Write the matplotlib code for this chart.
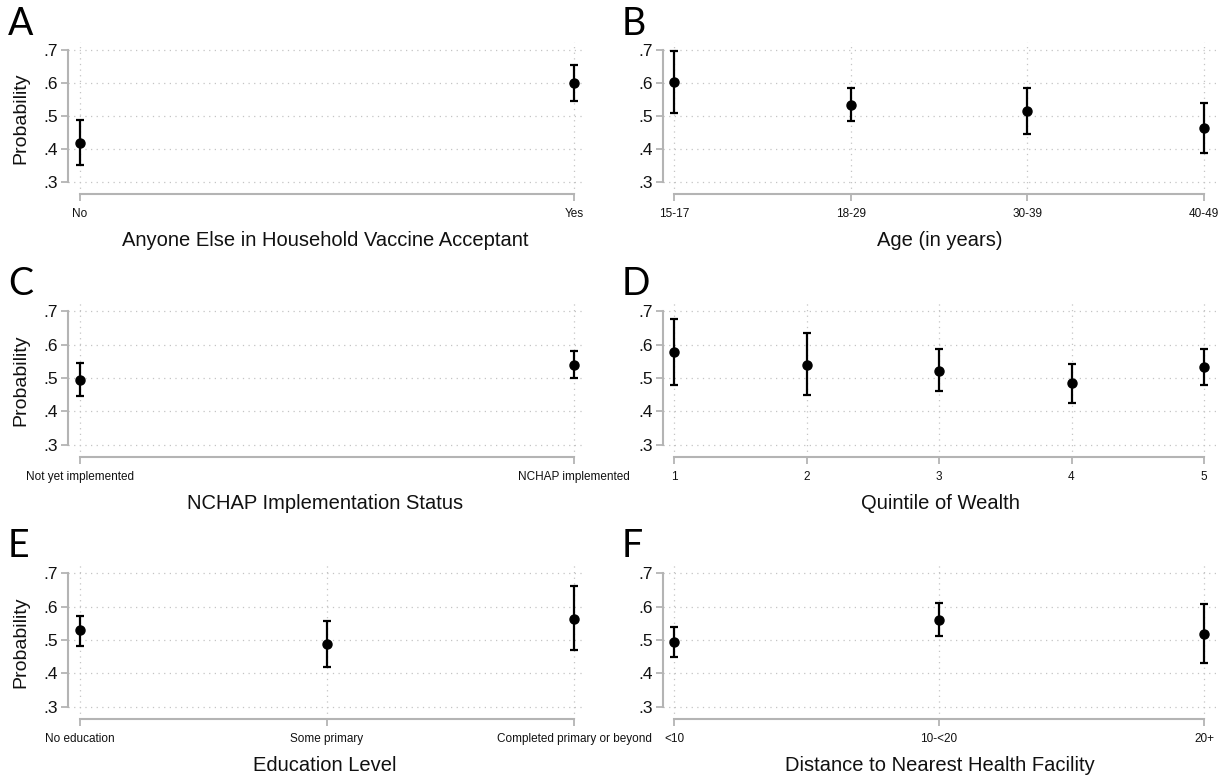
import matplotlib
matplotlib.use("Agg")
import matplotlib.pyplot as plt

plt.rcParams['font.family'] = ['Liberation Sans', 'DejaVu Sans']

# panel data: categories, point estimate, lower and upper CI
cats_a = ['No', 'Yes']
est_a = [0.419, 0.600]
lo_a = [0.351, 0.544]
hi_a = [0.489, 0.654]

cats_b = ['15-17', '18-29', '30-39', '40-49']
est_b = [0.603, 0.533, 0.515, 0.464]
lo_b = [0.509, 0.485, 0.445, 0.389]
hi_b = [0.698, 0.585, 0.586, 0.540]

cats_c = ['Not yet implemented', 'NCHAP implemented']
est_c = [0.494, 0.540]
lo_c = [0.446, 0.501]
hi_c = [0.545, 0.581]

cats_d = ['1', '2', '3', '4', '5']
est_d = [0.579, 0.540, 0.522, 0.485, 0.532]
lo_d = [0.480, 0.448, 0.460, 0.424, 0.479]
hi_d = [0.676, 0.634, 0.586, 0.542, 0.586]

cats_e = ['No education', 'Some primary', 'Completed primary or beyond']
est_e = [0.529, 0.487, 0.564]
lo_e = [0.483, 0.419, 0.470]
hi_e = [0.573, 0.557, 0.660]

cats_f = ['<10', '10-<20', '20+']
est_f = [0.494, 0.561, 0.518]
lo_f = [0.449, 0.511, 0.431]
hi_f = [0.538, 0.612, 0.608]

titles = ['Anyone Else in Household Vaccine Acceptant', 'Age (in years)',
          'NCHAP Implementation Status', 'Quintile of Wealth',
          'Education Level', 'Distance to Nearest Health Facility']
letters = ['A', 'B', 'C', 'D', 'E', 'F']
yticks = [0.3, 0.4, 0.5, 0.6, 0.7]
ylabels = ['.3', '.4', '.5', '.6', '.7']

panels = [(cats_a, est_a, lo_a, hi_a), (cats_b, est_b, lo_b, hi_b),
          (cats_c, est_c, lo_c, hi_c), (cats_d, est_d, lo_d, hi_d),
          (cats_e, est_e, lo_e, hi_e), (cats_f, est_f, lo_f, hi_f)]

W, H = 1226, 776
fig = plt.figure(figsize=(W / 100, H / 100), dpi=100)

col_x = [(68, 582), (663, 1217)]
row_y = [(42, 194), (303, 457), (565, 719)]
tick_px = [(80, 574), (674, 1204)]

AXIS_GRAY = '#b4b4b4'
GRID_GRAY = '#c4c4c4'

for i, (cats, est, lo, hi) in enumerate(panels):
    r, c = divmod(i, 2)
    x0, x1 = col_x[c]
    y0, y1 = row_y[r]
    ax = fig.add_axes([x0 / W, 1 - y1 / H, (x1 - x0) / W, (y1 - y0) / H])

    n = len(cats)
    t0, t1 = tick_px[c]
    per = (t1 - t0) / (n - 1)
    ax.set_xlim(-(t0 - x0) / per, (n - 1) + (x1 - t1) / per)
    # .7 sits 8px below top, .3 sits 12px above the x axis
    ax.set_ylim(0.3 - 12 / 330, 0.7 + 8 / 330)

    xs = list(range(n))
    yerr = [[e - l for e, l in zip(est, lo)], [h - e for e, h in zip(est, hi)]]
    ax.errorbar(xs, est, yerr=yerr, fmt='o', color='black', ms=6.5,
                elinewidth=1.6, capsize=3.2, capthick=1.6, zorder=3)

    ax.set_yticks(yticks)
    ax.set_yticklabels(ylabels)
    ax.set_xticks(xs)
    ax.set_xticklabels(cats)
    ax.grid(True, color=GRID_GRAY, linestyle=(0, (1, 3.5)), linewidth=0.9)
    ax.set_axisbelow(True)

    for s in ['top', 'right']:
        ax.spines[s].set_visible(False)
    ax.spines['left'].set_bounds(0.3, 0.7)
    ax.spines['bottom'].set_bounds(0, n - 1)
    for s in ['left', 'bottom']:
        ax.spines[s].set_color(AXIS_GRAY)
        ax.spines[s].set_linewidth(1.5)
    ax.tick_params(axis='y', colors=AXIS_GRAY, labelcolor='#111111',
                   labelsize=12.5, length=5, width=1.3, pad=2)
    ax.tick_params(axis='x', colors=AXIS_GRAY, labelcolor='#111111',
                   labelsize=8.5, length=5, width=1.3, pad=5)

    ax.set_xlabel(titles[i], fontsize=14.5, color='#111111', labelpad=8)
    if c == 0:
        ax.set_ylabel('Probability', fontsize=14, color='#111111', labelpad=10)

    lx = 8 if c == 0 else 622
    ly = [6, 266, 528][r]
    fig.text(lx / W, 1 - ly / H, letters[i], fontsize=27, va='top', ha='left',
             family=['Lato', 'DejaVu Sans'], color='black')

fig.savefig('out.png', dpi=100, facecolor='white')
